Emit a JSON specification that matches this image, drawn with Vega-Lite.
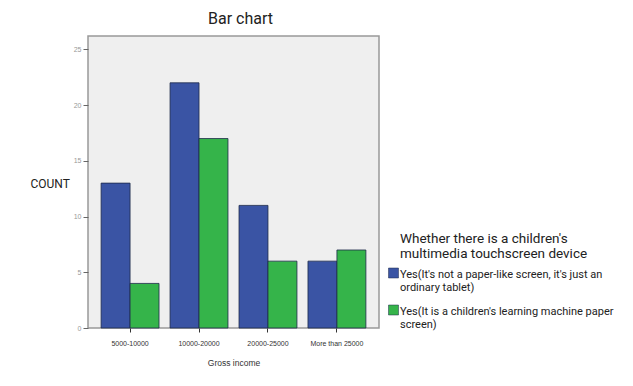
{
  "$schema": "https://vega.github.io/schema/vega-lite/v6.json",
  "width": 291,
  "height": 292,
  "autosize": "none",
  "padding": {"left": 88, "top": 36, "right": 254, "bottom": 58},
  "background": "white",
  "title": {"text": "Bar chart", "fontSize": 16, "font": "Roboto", "fontWeight": "normal", "color": "#222", "anchor": "middle", "dx": 7, "offset": 9},
  "data": {"values": [
    {"income": "5000-10000", "device": "Yes(It's not a paper-like screen, it's just an ordinary tablet)", "count": 13},
    {"income": "5000-10000", "device": "Yes(It is a children's learning machine paper screen)", "count": 4},
    {"income": "10000-20000", "device": "Yes(It's not a paper-like screen, it's just an ordinary tablet)", "count": 22},
    {"income": "10000-20000", "device": "Yes(It is a children's learning machine paper screen)", "count": 17},
    {"income": "20000-25000", "device": "Yes(It's not a paper-like screen, it's just an ordinary tablet)", "count": 11},
    {"income": "20000-25000", "device": "Yes(It is a children's learning machine paper screen)", "count": 6},
    {"income": "More than 25000", "device": "Yes(It's not a paper-like screen, it's just an ordinary tablet)", "count": 6},
    {"income": "More than 25000", "device": "Yes(It is a children's learning machine paper screen)", "count": 7}
  ]},
  "mark": {"type": "bar", "stroke": "#1e2a4a", "strokeWidth": 1, "strokeOpacity": 0.8},
  "encoding": {
    "x": {"field": "income", "type": "nominal", "sort": null,
      "scale": {"paddingInner": 0.16, "paddingOuter": 0.19},
      "axis": {"title": "Gross income", "labelAngle": 0, "labelFontSize": 7, "labelFont": "Liberation Sans", "labelColor": "#333", "titleFontSize": 8.5, "titleFont": "Liberation Sans", "titleFontWeight": "normal", "titleColor": "#333", "tickColor": "#333", "tickSize": 4, "domain": false, "labelPadding": 7, "titlePadding": 12}},
    "xOffset": {"field": "device", "type": "nominal", "sort": null},
    "y": {"field": "count", "type": "quantitative",
      "scale": {"domain": [0, 26.2], "nice": false},
      "axis": {"title": "COUNT", "values": [0, 5, 10, 15, 20, 25], "grid": false, "domain": false, "labelFontSize": 7, "labelFont": "Liberation Sans", "labelColor": "#999", "tickColor": "#666", "tickSize": 5, "titleAngle": 0, "titleX": -58, "titleY": 154, "titleFontSize": 12, "titleFont": "Roboto", "titleFontWeight": "normal", "titleColor": "#222", "titleAlign": "left"}},
    "color": {"field": "device", "type": "nominal", "sort": null,
      "scale": {"range": ["#3a54a4", "#35b44a"]},
      "legend": {
        "orient": "none", "legendX": 300, "legendY": 196,
        "title": ["Whether there is a children's", "multimedia touchscreen device"],
        "titleFontSize": 13.5, "titleFont": "Roboto", "titleFontWeight": "normal", "titleColor": "#222", "titleLineHeight": 15, "titlePadding": 7, "titleLimit": 400,
        "labelFontSize": 11, "labelFont": "Roboto", "labelColor": "#222", "labelLimit": 300, "labelBaseline": "top",
        "labelExpr": "indexof(datum.label, 'ordinary') >= 0 ? [\"Yes(It's not a paper-like screen, it's just an\", 'ordinary tablet)'] : [\"Yes(It is a children's learning machine paper\", 'screen)']",
        "symbolType": "square", "symbolSize": 100, "symbolStrokeColor": "#1e2a4a", "symbolStrokeWidth": 0.5,
        "rowPadding": 10, "labelOffset": 1,
        "encode": {
          "labels": {"update": {"dy": {"value": -4}}},
          "title": {"update": {"dx": {"value": 12}}}
        }
      }}
  },
  "config": {
    "view": {"fill": "#efefef", "stroke": "#999", "strokeWidth": 1.5}
  }
}
